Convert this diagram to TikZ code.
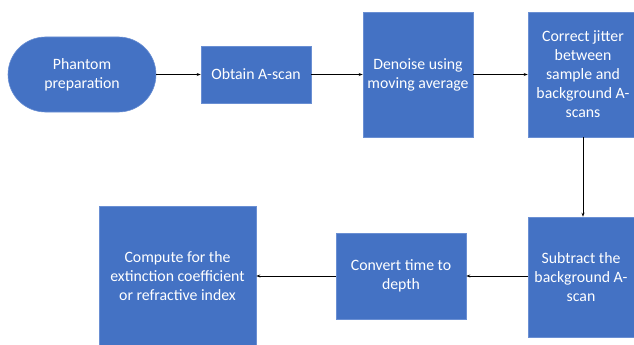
\documentclass[tikz,border=0pt]{standalone}
\usepackage{fontspec}
\setmainfont{Carlito}
\usetikzlibrary{arrows.meta,shapes.misc}
\definecolor{boxblue}{HTML}{4472C4}
\definecolor{boxedge}{HTML}{6A8FD3}
\begin{document}
\begin{tikzpicture}[x=1pt,y=-1pt,
  box/.style={draw=boxedge,line width=0.6pt,fill=boxblue,text=white,align=center,inner sep=0pt,font=\fontsize{15.8}{19}\selectfont},
  conn/.style={draw=black,line width=0.8pt,-{Stealth[length=4pt,width=3pt]}}]
\useasboundingbox (0,0) rectangle (634,345);
\node[box,rounded rectangle,minimum width=148pt,minimum height=75pt] (ph) at (82,74.5) {Phantom\\preparation};
\node[box,minimum width=110pt,minimum height=57pt] (ob) at (256,74.5) {Obtain A-scan};
\node[box,minimum width=110pt,minimum height=125pt] (dn) at (418,74.5) {Denoise using\\moving average};
\node[box,minimum width=110pt,minimum height=125pt] (cj) at (583,74.5) {Correct jitter\\between\\sample and\\background A-\\scans};
\node[box,minimum width=106pt,minimum height=120pt] (sb) at (581,277) {Subtract the\\background A-\\scan};
\node[box,minimum width=130pt,minimum height=86pt] (cv) at (401,276) {Convert time to\\depth};
\node[box,minimum width=157pt,minimum height=140pt] (cp) at (177.5,276) {Compute for the\\extinction coefficient\\or refractive index};
\draw[conn] (ph.east) -- (ob.west);
\draw[conn] (ob.east) -- (dn.west);
\draw[conn] (dn.east) -- (cj.west);
\draw[conn] (cj.south) -- (cj.south |- sb.north);
\draw[conn] (sb.west |- cv.east) -- (cv.east);
\draw[conn] (cv.west) -- (cp.east |- cv.west);
\end{tikzpicture}
\end{document}
